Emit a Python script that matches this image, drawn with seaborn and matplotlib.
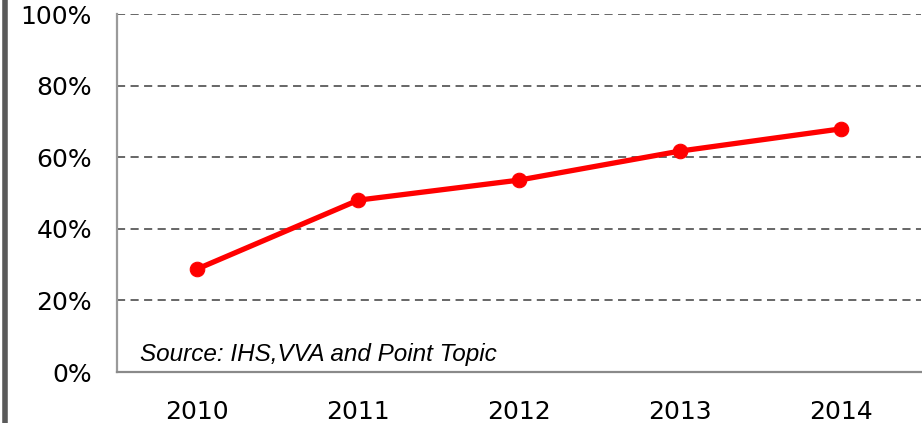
import matplotlib
matplotlib.use("Agg")
import matplotlib.pyplot as plt
import seaborn as sns
import pandas as pd
from matplotlib.lines import Line2D

# values
years = ["2010", "2011", "2012", "2013", "2014"]
share = [28.8, 48.0, 53.6, 61.7, 67.9]
y_ticks = [0, 20, 40, 60, 80, 100]
y_labels = ["0%", "20%", "40%", "60%", "80%", "100%"]
source_note = "Source: IHS,VVA and Point Topic"

df = pd.DataFrame({"Year": years, "Share": share})

sns.set_style("white")
plt.rcParams["font.family"] = ["DejaVu Sans"]

fig = plt.figure(figsize=(9.22, 4.23), dpi=100)
ax = fig.add_axes([117 / 922, 1 - 372 / 423, 804 / 922, 358 / 423])

sns.lineplot(data=df, x="Year", y="Share", ax=ax, color="#ff0000",
             linewidth=3.8, marker="o", markersize=10.5,
             markeredgecolor="#ff0000", sort=False)

ax.set_xlim(-0.5, 4.5)
ax.set_ylim(0, 100)
ax.set_yticks(y_ticks)
ax.set_yticklabels(y_labels)
ax.set_xlabel("")
ax.set_ylabel("")
ax.tick_params(axis="y", labelsize=18, pad=18, length=0, colors="#000000")
ax.tick_params(axis="x", labelsize=18, pad=20, length=0, colors="#000000")

for yv in y_ticks[1:]:
    ax.axhline(yv, color="#5a5a5a", linewidth=1.3, linestyle=(0, (4.5, 3)), zorder=0)

for side in ["top", "right"]:
    ax.spines[side].set_visible(False)
ax.spines["left"].set_color("#9a9a9a")
ax.spines["left"].set_linewidth(1.6)
ax.spines["bottom"].set_color("#8a8a8a")
ax.spines["bottom"].set_linewidth(1.6)

ax.text(140 / 922, 1 - 354 / 423, source_note, transform=fig.transFigure,
        fontsize=17.5, fontstyle="italic", family=["Liberation Sans"],
        color="#000000", va="center", ha="left")

# dark frame edge at the far left
fig.add_artist(Line2D([4.5 / 922, 4.5 / 922], [0, 1], transform=fig.transFigure,
                      color="#5a5a5a", linewidth=4))

fig.savefig("out.png", dpi=100)
